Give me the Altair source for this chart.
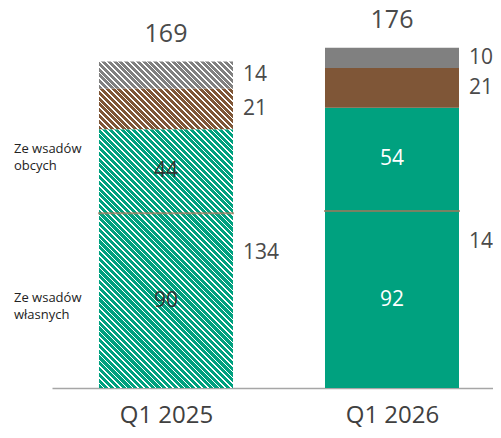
import json
import math
import altair as alt
import pandas as pd

# ---- data ----
quarters = ["Q1 2025", "Q1 2026"]
own = [90.4, 91.6]        # Ze wsadów własnych
foreign = [43.6, 53.5]    # Ze wsadów obcych
brown = [21.0, 20.6]
gray = [14.0, 10.4]
hatched = [True, False]

series = ["own", "foreign", "brown", "gray"]
series_values = {"own": own, "foreign": foreign, "brown": brown, "gray": gray}
colors = {"own": "#00A17F", "foreign": "#00A17F", "brown": "#7F5637", "gray": "#808080"}

# ---- layout constants ----
PLOT_W, PLOT_H = 441, 380
Y_MAX = 196.7
PXU = PLOT_H / Y_MAX
BAR_W = 134
X_DOMAIN = [-0.5044, 1.4469]
FONT = "Open Sans"

rows = []
for qi, q in enumerate(quarters):
    start = 0.0
    for si, s in enumerate(series):
        v = series_values[s][qi]
        rows.append(dict(quarter=q, idx=qi, series=s, order=si, value=v, start=start,
                         end=start + v, mid=start + v / 2, label=str(round(v)),
                         hatched=hatched[qi]))
        start += v
seg = pd.DataFrame(rows)

tot = pd.DataFrame({
    "quarter": quarters,
    "idx": list(range(len(quarters))),
    "total": [own[i] + foreign[i] + brown[i] + gray[i] for i in range(2)],
    "green": [own[i] + foreign[i] for i in range(2)],
})
tot["total_label"] = tot["total"].round().astype(int).astype(str)
tot["green_label"] = tot["green"].round().astype(int).astype(str)
tot["green_half"] = tot["green"] / 2
tot["own"] = own

side = pd.DataFrame({
    "text": [["Ze wsadów", "obcych"], ["Ze wsadów", "własnych"]],
    "y": [123.8, 46.6],
})

x_enc = alt.X("idx:Q",
              scale=alt.Scale(domain=X_DOMAIN, nice=False, zero=False, padding=0),
              axis=alt.Axis(title=None, values=[0, 1], grid=False, ticks=False,
                            labelExpr=f"{json.dumps(quarters)}[datum.value]",
                            labelFontSize=24, labelFont=FONT,
                            labelColor="#404040", labelPadding=15,
                            domainColor="#A6A6A6", domainWidth=1.5))
y_scale = alt.Scale(domain=[0, Y_MAX], nice=False, zero=True)


def hatch(color, h, w=BAR_W, p=5.8, frac=0.7):
    n = math.ceil((w + h) / p)
    length = n * p
    k = length * w / (w * w + h * h)
    stops = []
    for i in range(n):
        a = i / n
        b = (i + frac) / n
        c = (i + 1) / n
        stops += [
            alt.GradientStop(offset=a, color=color),
            alt.GradientStop(offset=b, color=color),
            alt.GradientStop(offset=b, color="#FFFFFF"),
            alt.GradientStop(offset=c, color="#FFFFFF"),
        ]
    return alt.LinearGradient(gradient="linear", stops=stops,
                              x1=0, y1=1, x2=k, y2=1 - k * h / w)


base = alt.Chart(seg)
layers = []

# hatched segments (one layer each, gradient sized to the segment)
for _, r in seg[seg["hatched"]].iterrows():
    layers.append(
        base.transform_filter(
            (alt.datum.quarter == r["quarter"]) & (alt.datum.series == r["series"])
        ).mark_bar(fill=hatch(colors[r["series"]], r["value"] * PXU), width=BAR_W)
        .encode(x=x_enc, y=alt.Y("start:Q", scale=y_scale, axis=None), y2="end:Q")
    )

# solid segments
layers.append(
    base.transform_filter(alt.datum.hatched == False).mark_bar(width=BAR_W).encode(
        x=x_enc,
        y=alt.Y("start:Q", scale=y_scale, axis=None),
        y2="end:Q",
        color=alt.Color("series:N", legend=None,
                        scale=alt.Scale(domain=series, range=[colors[s] for s in series])),
    )
)

# separator line between own and foreign
layers.append(
    alt.Chart(tot).mark_tick(orient="horizontal", size=136, thickness=2,
                             color="#A0785A", opacity=0.75).encode(
        x=x_enc, y=alt.Y("own:Q", scale=y_scale, axis=None)
    )
)

# inside labels (own, foreign)
layers.append(
    base.transform_filter(alt.FieldOneOfPredicate(field="series", oneOf=["own", "foreign"]))
    .mark_text(fontSize=21, font=FONT, baseline="middle")
    .encode(
        x=x_enc,
        y=alt.Y("mid:Q", scale=y_scale, axis=None),
        text="label:N",
        color=alt.condition(alt.datum.hatched, alt.value("#333333"), alt.value("#FFFFFF")),
    )
)

# right-side labels (brown, gray)
layers.append(
    base.transform_filter(alt.FieldOneOfPredicate(field="series", oneOf=["brown", "gray"]))
    .mark_text(fontSize=21, font=FONT, baseline="middle", align="left", dx=77, color="#4A4A4A")
    .encode(x=x_enc, y=alt.Y("mid:Q", scale=y_scale, axis=None), text="label:N")
)

# green total labels
layers.append(
    alt.Chart(tot).mark_text(fontSize=21, font=FONT, baseline="alphabetic", align="left",
                             dx=77, color="#4A4A4A")
    .encode(x=x_enc, y=alt.Y("green_half:Q", scale=y_scale, axis=None), text="green_label:N")
)

# totals on top
layers.append(
    alt.Chart(tot).mark_text(fontSize=25, font=FONT, baseline="alphabetic", dy=-20,
                             color="#4A4A4A")
    .encode(x=x_enc, y=alt.Y("total:Q", scale=y_scale, axis=None), text="total_label:N")
)

# left descriptive labels
layers.append(
    alt.Chart(side).mark_text(fontSize=13, font=FONT, align="left", baseline="middle",
                              lineHeight=17, color="#222222")
    .encode(x=alt.value(-38), y=alt.Y("y:Q", scale=y_scale, axis=None), text="text")
)

chart = alt.layer(*layers).properties(
    width=PLOT_W, height=PLOT_H,
    autosize=alt.AutoSizeParams(type="none"),
    padding={"left": 44, "top": 0, "right": 0, "bottom": 42},
).configure_view(stroke=None)

chart.save("out.html", embed_options={"renderer": "svg", "actions": False})
